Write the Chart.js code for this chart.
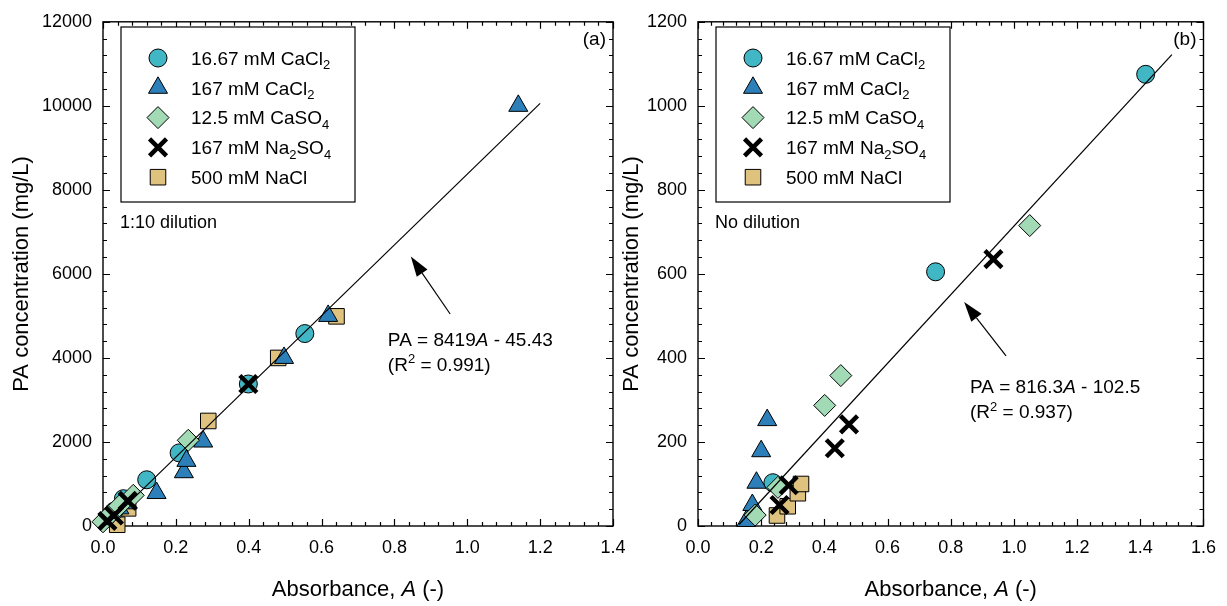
<!DOCTYPE html>
<html>
<head>
<meta charset="utf-8">
<script src="https://cdn.jsdelivr.net/npm/chart.js@4.4.0/dist/chart.umd.min.js"></script>
<style>
  html, body { margin: 0; padding: 0; background: #fff; }
  body { width: 1227px; height: 606px; position: relative; overflow: hidden; }
  .panel { position: absolute; top: 0; height: 606px; }
  #wrapA { left: 0; width: 650px; }
  #wrapB { left: 610px; width: 617px; }
</style>
</head>
<body>
<div class="panel" id="wrapA"><canvas id="chartA"></canvas></div>
<div class="panel" id="wrapB"><canvas id="chartB"></canvas></div>
<script>
const FONT = '"Liberation Sans", Arial, Helvetica, sans-serif';
Chart.defaults.font.family = FONT;
Chart.defaults.color = '#000';

// series (same order in both panels)
const seriesLabels = ['16.67 mM CaCl_2', '167 mM CaCl_2', '12.5 mM CaSO_4', '167 mM Na_2SO_4', '500 mM NaCl'];
const seriesColors = ['#41b6c4', '#2c7fb8', '#a1dab4', '#000000', '#dfc27d'];
const seriesShapes = ['circle', 'triangle', 'rectRot', 'crossRot', 'rect'];

// panel (a): 1:10 dilution, [absorbance, PA mg/L]
const aCaCl2Low = [[0.030, 350], [0.056, 650], [0.120, 1100], [0.209, 1740], [0.399, 3380], [0.554, 4580]];
const aCaCl2High = [[0.045, 420], [0.067, 540], [0.147, 785], [0.222, 1280], [0.229, 1550], [0.275, 2010], [0.497, 4000], [0.618, 5000], [1.140, 10000]];
const aCaSO4 = [[0.000, 100], [0.018, 260], [0.045, 480], [0.083, 730], [0.234, 2040]];
const aNa2SO4 = [[0.012, 120], [0.030, 250], [0.068, 600], [0.399, 3380]];
const aNaCl = [[0.039, 30], [0.069, 420], [0.289, 2500], [0.481, 4000], [0.641, 4990]];

// panel (b): no dilution
const bCaCl2Low = [[0.237, 103], [0.752, 605], [1.417, 1075]];
const bCaCl2High = [[0.153, 12], [0.172, 50], [0.185, 103], [0.200, 178], [0.219, 252]];
const bCaSO4 = [[0.181, 26], [0.253, 92], [0.401, 287], [0.452, 358], [1.050, 715]];
const bNa2SO4 = [[0.258, 50], [0.287, 97], [0.433, 185], [0.478, 242], [0.935, 635]];
const bNaCl = [[0.250, 25], [0.284, 47], [0.316, 78], [0.326, 100]];

// linear fits PA = slope*A + intercept
const fitSlope = [8419, 816.3];
const fitIntercept = [-45.43, -102.5];
const fitR2 = ['0.991', '0.937'];
const fitRange = [[0.01, 1.2], [0.13, 1.5]];

// axis limits and tick steps
const xMax = [1.4, 1.6];
const yMax = [12000, 1200];
const xStep = [0.2, 0.2];
const yStep = [2000, 200];

const pointRadius = { circle: 9, triangle: 11, rectRot: 11, crossRot: 12, rect: 11 };
const drawOrder = [4, 3, 2, 1, 5]; // bigger order is painted first

// text with _x subscripts, ^x superscripts and *italic* runs
function drawRich(ctx, str, x, y, size, align) {
  const runs = [];
  let buf = '', italic = false;
  const flush = () => { if (buf) runs.push({ t: buf, kind: 'n', italic }); buf = ''; };
  for (let i = 0; i < str.length; i++) {
    const c = str[i];
    if (c === '_' || c === '^') { flush(); runs.push({ t: str[++i], kind: c === '_' ? 'sub' : 'sup', italic }); }
    else if (c === '*') { flush(); italic = !italic; }
    else buf += c;
  }
  flush();
  const fontOf = r => (r.italic ? 'italic ' : '') + (r.kind === 'n' ? size : Math.round(size * 0.68)) + 'px ' + FONT;
  let total = 0;
  runs.forEach(r => { ctx.font = fontOf(r); r.w = ctx.measureText(r.t).width; total += r.w; });
  let cx = align === 'right' ? x - total : align === 'center' ? x - total / 2 : x;
  const base = y + size * 0.36;
  ctx.textAlign = 'left';
  ctx.textBaseline = 'alphabetic';
  ctx.fillStyle = '#000';
  runs.forEach(r => {
    ctx.font = fontOf(r);
    const dy = r.kind === 'sub' ? size * 0.24 : r.kind === 'sup' ? -size * 0.4 : 0;
    ctx.fillText(r.t, cx, base + dy);
    cx += r.w;
  });
}

function drawArrow(ctx, x1, y1, x2, y2) {
  const ang = Math.atan2(y2 - y1, x2 - x1);
  const len = 20, half = 6.5;
  const bx = x2 - Math.cos(ang) * len, by = y2 - Math.sin(ang) * len;
  ctx.strokeStyle = '#000';
  ctx.lineWidth = 1.2;
  ctx.beginPath();
  ctx.moveTo(x1, y1);
  ctx.lineTo(bx, by);
  ctx.stroke();
  ctx.fillStyle = '#000';
  ctx.beginPath();
  ctx.moveTo(x2, y2);
  ctx.lineTo(bx + Math.sin(ang) * half, by - Math.cos(ang) * half);
  ctx.lineTo(bx - Math.sin(ang) * half, by + Math.cos(ang) * half);
  ctx.closePath();
  ctx.fill();
}

// box round the plot with inward major/minor ticks on all four sides
const frameTicks = {
  id: 'frameTicks',
  beforeDatasetsDraw(chart) {
    const { ctx, chartArea: { left, right, top, bottom }, scales: { x, y } } = chart;
    const p = chart.options.plugins.frameTicks;
    ctx.save();
    ctx.strokeStyle = '#000';
    ctx.lineWidth = 1.2;
    ctx.beginPath();
    const nx = Math.round(x.max / p.xMinor);
    for (let k = 0; k <= nx; k++) {
      const px = Math.round(x.getPixelForValue(k * p.xMinor)) + 0.5;
      const l = k % 5 === 0 ? 7 : 4;
      ctx.moveTo(px, bottom); ctx.lineTo(px, bottom - l);
      ctx.moveTo(px, top); ctx.lineTo(px, top + l);
    }
    const ny = Math.round(y.max / p.yMinor);
    for (let k = 0; k <= ny; k++) {
      const py = Math.round(y.getPixelForValue(k * p.yMinor)) + 0.5;
      const l = k % 5 === 0 ? 7 : 4;
      ctx.moveTo(left, py); ctx.lineTo(left + l, py);
      ctx.moveTo(right, py); ctx.lineTo(right - l, py);
    }
    ctx.stroke();
    ctx.lineWidth = 1.4;
    ctx.strokeRect(left, top, right - left, bottom - top);
    ctx.restore();
  }
};

// legend box, panel letter, notes, fit equation and arrow
const extras = {
  id: 'extras',
  afterDraw(chart) {
    const { ctx, chartArea: area, scales: { x, y } } = chart;
    const p = chart.options.plugins.extras;
    ctx.save();

    // x-axis title
    drawRich(ctx, 'Absorbance, *A* (-)', (area.left + area.right) / 2, 588, 22, 'center');

    // legend
    const bx = area.left + 18, by = 27, bw = 234, bh = 175;
    ctx.fillStyle = '#fff';
    ctx.fillRect(bx, by, bw, bh);
    ctx.strokeStyle = '#000';
    ctx.lineWidth = 1.2;
    ctx.strokeRect(bx, by, bw, bh);
    seriesLabels.forEach((lab, i) => {
      const ry = by + 31 + i * 29.8;
      const shape = seriesShapes[i];
      ctx.fillStyle = seriesColors[i];
      ctx.strokeStyle = '#000';
      ctx.lineWidth = shape === 'crossRot' ? 4.5 : 1;
      Chart.helpers.drawPoint(ctx, { pointStyle: shape, radius: pointRadius[shape], borderWidth: ctx.lineWidth, rotation: 0 }, bx + 37, ry);
      drawRich(ctx, lab, bx + 70, ry, 19, 'left');
    });

    drawRich(ctx, p.letter, area.right - 7, area.top + 16, 19, 'right');
    drawRich(ctx, p.note, area.left + 17, 222, 18, 'left');

    const tx = x.getPixelForValue(p.textAt[0]), ty = y.getPixelForValue(p.textAt[1]);
    drawRich(ctx, p.eqn, tx, ty, 19, 'left');
    drawRich(ctx, p.r2, tx, ty + 25, 19, 'left');

    drawArrow(ctx,
      x.getPixelForValue(p.arrowTail[0]), y.getPixelForValue(p.arrowTail[1]),
      x.getPixelForValue(p.arrowTip[0]), y.getPixelForValue(p.arrowTip[1]));
    ctx.restore();
  }
};

function makeDatasets(groups, k) {
  const sets = groups.map((pts, i) => ({
    label: seriesLabels[i],
    data: pts.map(p => ({ x: p[0], y: p[1] })),
    pointStyle: seriesShapes[i],
    pointRadius: pointRadius[seriesShapes[i]],
    pointHoverRadius: pointRadius[seriesShapes[i]],
    pointBackgroundColor: seriesColors[i],
    pointBorderColor: '#000',
    pointBorderWidth: seriesShapes[i] === 'crossRot' ? 4.5 : 1,
    order: drawOrder[i]
  }));
  sets.push({
    type: 'line',
    label: 'fit',
    data: fitRange[k].map(a => ({ x: a, y: fitSlope[k] * a + fitIntercept[k] })),
    borderColor: '#000',
    borderWidth: 1.2,
    pointRadius: 0,
    showLine: true,
    order: 0
  });
  return sets;
}

function makeChart(id, k, groups, yWidth, padRight, extra) {
  return new Chart(document.getElementById(id), {
    type: 'scatter',
    data: { datasets: makeDatasets(groups, k) },
    options: {
      responsive: true,
      maintainAspectRatio: false,
      animation: false,
      events: [],
      clip: false,
      layout: { padding: { top: 17, right: padRight, left: 0, bottom: 0 } },
      scales: {
        x: {
          type: 'linear', min: 0, max: xMax[k],
          grid: { display: false, drawTicks: false },
          border: { display: false },
          ticks: { stepSize: xStep[k], padding: 11, font: { size: 18 }, callback: v => v.toFixed(1) },
          afterFit: s => { s.height = 80; }
        },
        y: {
          type: 'linear', min: 0, max: yMax[k],
          grid: { display: false, drawTicks: false },
          border: { display: false },
          ticks: { stepSize: yStep[k], padding: 11, font: { size: 18 }, callback: v => String(v) },
          title: { display: true, text: 'PA concentration (mg/L)', font: { size: 22 }, padding: { top: 9, bottom: 0 } },
          afterFit: s => { s.width = yWidth; }
        }
      },
      plugins: {
        legend: { display: false },
        tooltip: { enabled: false },
        frameTicks: { xMinor: xStep[k] / 5, yMinor: yStep[k] / 5 },
        extras: extra
      }
    },
    plugins: [frameTicks, extras]
  });
}

makeChart('chartA', 0, [aCaCl2Low, aCaCl2High, aCaSO4, aNa2SO4, aNaCl], 103, 37, {
  letter: '(a)',
  note: '1:10 dilution',
  eqn: 'PA = ' + fitSlope[0] + '*A* - ' + Math.abs(fitIntercept[0]),
  r2: '(R^2 = ' + fitR2[0] + ')',
  textAt: [0.782, 4455],
  arrowTail: [0.953, 5045],
  arrowTip: [0.845, 6412]
});

makeChart('chartB', 1, [bCaCl2Low, bCaCl2High, bCaSO4, bNa2SO4, bNaCl], 88, 20, {
  letter: '(b)',
  note: 'No dilution',
  eqn: 'PA = ' + fitSlope[1] + '*A* - ' + Math.abs(fitIntercept[1]),
  r2: '(R^2 = ' + fitR2[1] + ')',
  textAt: [0.861, 332],
  arrowTail: [0.975, 405],
  arrowTip: [0.8425, 533]
});
</script>
</body>
</html>
